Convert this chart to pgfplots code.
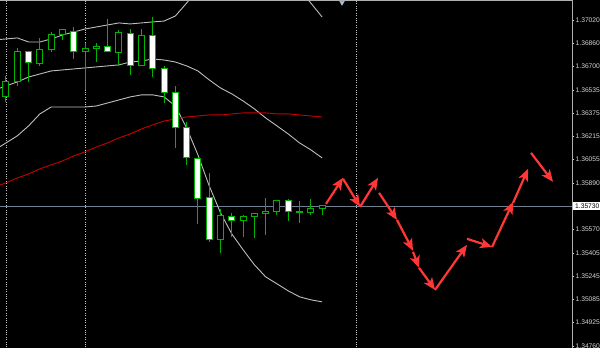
\documentclass[border=0pt]{standalone}
\usepackage{pgfplots}
\pgfplotsset{compat=1.18}
\usepackage{pgfplotstable}
\usepackage{fontspec}
\setmainfont{Liberation Sans}
\usetikzlibrary{backgrounds,arrows.meta}
\definecolor{cgreen}{RGB}{0,180,0}
\definecolor{bandcol}{RGB}{190,190,190}
\definecolor{macol}{RGB}{200,0,0}
\definecolor{arrowred}{RGB}{255,55,55}
\definecolor{pricecol}{RGB}{112,128,144}
\definecolor{dotcol}{RGB}{200,200,200}
\definecolor{framecol}{RGB}{175,175,175}
\definecolor{labcol}{RGB}{215,215,215}
\definecolor{shiftcol}{RGB}{170,190,215}

\pgfplotstableread{
i o h l c
0 1.36487 1.36632 1.36452 1.36591
1 1.36591 1.36826 1.36563 1.36799
2 1.36799 1.36799 1.36591 1.36729
3 1.36722 1.36896 1.36702 1.36819
4 1.36819 1.36937 1.36799 1.36923
5 1.36923 1.36958 1.36882 1.36951
6 1.36944 1.36972 1.36750 1.36799
7 1.36799 1.36861 1.36535 1.36826
8 1.36826 1.36861 1.36729 1.36840
9 1.36840 1.37027 1.36799 1.36799
10 1.36792 1.36951 1.36702 1.36937
11 1.36930 1.36958 1.36639 1.36702
12 1.36702 1.36958 1.36702 1.36910
13 1.36910 1.37041 1.36625 1.36681
14 1.36681 1.36702 1.36445 1.36515
15 1.36521 1.36563 1.36133 1.36272
16 1.36272 1.36314 1.36016 1.36064
17 1.36057 1.36057 1.35607 1.35780
18 1.35787 1.35960 1.35482 1.35496
19 1.35496 1.35711 1.35406 1.35662
20 1.35655 1.35683 1.35517 1.35628
21 1.35628 1.35669 1.35517 1.35655
22 1.35655 1.35683 1.35510 1.35676
23 1.35676 1.35787 1.35530 1.35690
24 1.35690 1.35773 1.35669 1.35766
25 1.35766 1.35780 1.35628 1.35690
26 1.35690 1.35766 1.35614 1.35686
27 1.35683 1.35780 1.35669 1.35711
28 1.35711 1.35731 1.35669 1.35731
}\candles

\pgfplotstableread{
i up mid lo ma
-1 1.36882 1.36535 1.36120 1.35863
0 1.36889 1.36563 1.36168 1.35891
1 1.36896 1.36591 1.36217 1.35925
2 1.36868 1.36625 1.36286 1.35953
3 1.36868 1.36646 1.36369 1.35988
4 1.36889 1.36667 1.36417 1.36016
5 1.36916 1.36674 1.36417 1.36043
6 1.36937 1.36681 1.36417 1.36078
7 1.36958 1.36688 1.36417 1.36106
8 1.36972 1.36695 1.36424 1.36140
9 1.36986 1.36702 1.36445 1.36168
10 1.37000 1.36709 1.36466 1.36203
11 1.36993 1.36729 1.36487 1.36230
12 1.37000 1.36736 1.36501 1.36265
13 1.37007 1.36750 1.36501 1.36293
14 1.37013 1.36743 1.36487 1.36320
15 1.37048 1.36729 1.36424 1.36334
16 1.37138 1.36702 1.36272 1.36348
17 1.37235 1.36667 1.36085 1.36355
18 1.37311 1.36605 1.35870 1.36362
19 1.37367 1.36549 1.35683 1.36362
20 1.37408 1.36508 1.35537 1.36369
21 1.37436 1.36459 1.35427 1.36376
22 1.37436 1.36404 1.35323 1.36376
23 1.37415 1.36341 1.35239 1.36376
24 1.37374 1.36286 1.35191 1.36369
25 1.37311 1.36230 1.35142 1.36369
26 1.37228 1.36168 1.35101 1.36362
27 1.37138 1.36120 1.35080 1.36355
28 1.37041 1.36064 1.35066 1.36348
}\bands

\pgfplotstableread{
x0 y0 x1 y1
28.34 1.35745 29.85 1.35926
29.85 1.35919 31.36 1.35725
31.36 1.35725 32.95 1.35926
33.04 1.35822 34.63 1.35634
34.63 1.35634 36.05 1.35420
36.05 1.35413 36.58 1.35302
36.58 1.35302 38.00 1.35149
38.00 1.35149 40.83 1.35461
40.83 1.35503 43.05 1.35447
43.05 1.35447 44.91 1.35759
44.91 1.35752 46.24 1.35988
46.50 1.36099 48.45 1.35898
}\arrowtab

\begin{document}
\begin{tikzpicture}
\begin{axis}[
  at={(0,0)}, anchor=south west,
  scale only axis, width=572pt, height=348pt,
  xmin=-0.531, xmax=50.13, ymin=1.34746, ymax=1.37159,
  axis x line=none, axis y line*=right,
  axis line style={draw=framecol, line width=1pt, -},
  xtick=\empty,
  ytick={1.34760,1.34925,1.35085,1.35245,1.35405,1.35570,1.35730,1.35890,1.36055,1.36215,1.36375,1.36535,1.36700,1.36860,1.37020},
  yticklabels={1.34760,1.34925,1.35085,1.35245,1.35405,1.35570,{},1.35890,1.36055,1.36215,1.36375,1.36535,1.36700,1.36860,1.37020},
  tick align=outside, major tick length=2pt,
  ytick style={draw=labcol, line width=0.6pt},
  yticklabel style={font=\fontsize{6.7}{7}\selectfont, text=labcol, anchor=west, inner sep=0pt, xshift=1.5pt},
]
% day separators
\addplot[dotcol, line width=0.8pt, dash pattern=on 1pt off 1.4pt] coordinates {(0,1.3460) (0,1.3730)};
\addplot[dotcol, line width=0.8pt, dash pattern=on 1pt off 1.4pt] coordinates {(7,1.3460) (7,1.3730)};
\addplot[dotcol, line width=0.8pt, dash pattern=on 1pt off 1.4pt] coordinates {(31,1.3460) (31,1.3730)};
% current price line
\addplot[pricecol, line width=1pt] coordinates {(-1,1.35730) (51,1.35730)};
% Bollinger bands and moving average
\addplot[bandcol, line width=0.9pt] table[x=i,y=up]{\bands};
\addplot[bandcol, line width=0.9pt] table[x=i,y=mid]{\bands};
\addplot[bandcol, line width=0.9pt] table[x=i,y=lo]{\bands};
\addplot[macol, line width=0.9pt] table[x=i,y=ma]{\bands};
% candles
\pgfplotsinvokeforeach{0,...,28}{%
  \pgfplotstablegetelem{#1}{o}\of\candles\let\vo\pgfplotsretval
  \pgfplotstablegetelem{#1}{h}\of\candles\let\vh\pgfplotsretval
  \pgfplotstablegetelem{#1}{l}\of\candles\let\vl\pgfplotsretval
  \pgfplotstablegetelem{#1}{c}\of\candles\let\vc\pgfplotsretval
  \pgfmathsetmacro\xl{#1-0.266}%
  \pgfmathsetmacro\xr{#1+0.266}%
  \ifdim\vc pt<\vo pt \def\fc{white}\else\def\fc{black}\fi
  \edef\cmd{%
    \noexpand\addplot[cgreen, line width=1pt] coordinates {(#1,\vl) (#1,\vh)};
    \noexpand\addplot[fill=\fc, draw=cgreen, line width=1pt] coordinates {(\xl,\vo) (\xr,\vo) (\xr,\vc) (\xl,\vc)} -- cycle;
  }\cmd
}
% forecast arrows
\pgfplotsinvokeforeach{0,...,11}{%
  \pgfplotstablegetelem{#1}{x0}\of\arrowtab\let\xa\pgfplotsretval
  \pgfplotstablegetelem{#1}{y0}\of\arrowtab\let\ya\pgfplotsretval
  \pgfplotstablegetelem{#1}{x1}\of\arrowtab\let\xb\pgfplotsretval
  \pgfplotstablegetelem{#1}{y1}\of\arrowtab\let\yb\pgfplotsretval
  \edef\cmd{%
    \noexpand\addplot[arrowred, line width=2.2pt, -{Stealth[length=12pt,width=10pt,inset=3pt]}] coordinates {(\xa,\ya) (\xb,\yb)};
  }\cmd
}
% shift marker
\addplot[only marks, mark=triangle*, mark size=2.6pt, mark options={rotate=180, fill=shiftcol, draw=shiftcol}] coordinates {(29.76,1.37140)};
\coordinate (pl) at (axis cs:50.13,1.35730);
\end{axis}
\draw[framecol, line width=1pt] (0,347.5pt) -- (572.5pt,347.5pt);
\node[anchor=west, fill=white, text=black, inner xsep=2.5pt, inner ysep=1.7pt, font=\fontsize{6.7}{7}\selectfont] at ([xshift=0.5pt]pl) {1.35730};
\begin{scope}[on background layer]
\fill[black] (0,0) rectangle (600pt,348pt);
\end{scope}
\pgfresetboundingbox
\path[use as bounding box] (0,0) rectangle (600pt,348pt);
\end{tikzpicture}
\end{document}
